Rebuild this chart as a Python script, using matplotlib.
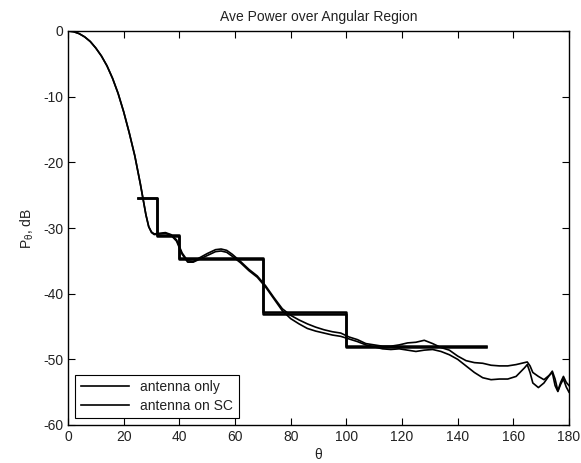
import matplotlib
matplotlib.use("Agg")
import matplotlib.pyplot as plt

plt.rcParams["font.family"] = ["Liberation Sans", "DejaVu Sans"]
plt.rcParams["axes.unicode_minus"] = False
plt.rcParams["mathtext.default"] = "regular"

# curve samples (theta in deg, power in dB)
theta_a = [0, 2, 4, 6, 8, 10, 12, 14, 16, 18, 20, 22, 24, 26, 28, 29, 30, 31,
           33, 35, 37, 39, 41, 43, 45, 47, 50, 53, 55, 57, 59, 62, 65, 68, 71,
           74, 77, 80, 83, 86, 89, 92, 95, 98, 101, 104, 107, 110, 113, 116,
           119, 122, 125, 128, 131, 134, 137, 140, 143, 146, 149, 152, 155,
           158, 161, 164, 165, 166, 167, 169, 171, 173, 174, 175, 176, 177,
           178, 179, 180]
power_a = [0, -0.1, -0.4, -0.9, -1.6, -2.6, -3.8, -5.3, -7.2, -9.5, -12.3,
           -15.5, -19.0, -23.3, -28.0, -29.8, -30.6, -30.9, -30.8, -30.7,
           -31.0, -31.8, -33.8, -35.0, -35.1, -34.6, -33.9, -33.3, -33.2,
           -33.4, -34.0, -35.1, -36.3, -37.3, -38.8, -40.6, -42.3, -43.3,
           -44.0, -44.6, -45.1, -45.5, -45.8, -46.0, -46.6, -47.0, -47.6,
           -47.8, -48.0, -48.0, -47.8, -47.5, -47.4, -47.1, -47.6, -48.2,
           -48.6, -49.5, -50.2, -50.5, -50.6, -50.9, -51.0, -51.0, -50.8,
           -50.5, -50.4, -51.0, -52.0, -52.6, -53.1, -52.4, -51.8, -53.0,
           -54.8, -53.5, -52.6, -53.5, -54.0]

theta_b = [0, 2, 4, 6, 8, 10, 12, 14, 16, 18, 20, 22, 24, 26, 28, 29, 30, 31,
           33, 35, 37, 39, 41, 43, 45, 47, 50, 53, 55, 57, 59, 62, 65, 68, 71,
           74, 77, 80, 83, 86, 89, 92, 95, 98, 101, 104, 107, 110, 113, 116,
           119, 122, 125, 128, 131, 134, 137, 140, 143, 146, 149, 152, 155,
           158, 161, 164, 165, 166, 167, 169, 171, 173, 174, 175, 176, 177,
           178, 179, 180]
power_b = [0, -0.1, -0.4, -0.9, -1.6, -2.6, -3.8, -5.3, -7.2, -9.5, -12.3,
           -15.5, -19.0, -23.3, -28.0, -29.8, -30.7, -31.0, -30.9, -30.8,
           -31.1, -32.0, -34.0, -35.2, -35.2, -34.8, -34.2, -33.6, -33.5,
           -33.7, -34.3, -35.3, -36.5, -37.5, -39.0, -40.8, -42.6, -43.8,
           -44.6, -45.3, -45.7, -46.0, -46.3, -46.5, -46.9, -47.3, -47.8,
           -48.1, -48.4, -48.5, -48.4, -48.6, -48.8, -48.6, -48.5, -48.8,
           -49.3, -50.0, -51.0, -52.0, -52.8, -53.1, -53.0, -53.0, -52.6,
           -51.3, -50.8, -52.0, -53.6, -54.3, -53.6, -52.4, -52.0, -54.0,
           -54.9, -53.8, -53.0, -54.2, -55.0]

# angular region averages
edges = [25, 32, 40, 70, 100, 150]
avg_a = [-25.5, -31.0, -34.6, -42.8, -48.0]
avg_b = [-25.5, -31.2, -34.7, -43.1, -48.1]


def main():
    fig = plt.figure(figsize=(5.81, 4.63), dpi=100)
    ax = fig.add_axes([68 / 581, 38 / 463, 501 / 581, 394 / 463])

    ax.plot(theta_a, power_a, color="black", linewidth=1.2,
            label="antenna only")
    ax.plot(theta_b, power_b, color="black", linewidth=1.2,
            label="antenna on SC")
    ax.step(edges, avg_a + [avg_a[-1]], where="post", color="black",
            linewidth=1.8)
    ax.step(edges, avg_b + [avg_b[-1]], where="post", color="black",
            linewidth=1.8)

    ax.set_xlim(0, 180)
    ax.set_ylim(-60, 0)
    ax.set_xticks(range(0, 181, 20))
    ax.set_yticks(range(-60, 1, 10))
    ax.tick_params(direction="in", top=True, right=True, labelsize=10,
                   length=5, colors="black", labelcolor="#222222")
    for s in ax.spines.values():
        s.set_linewidth(1.0)

    ax.set_title("Ave Power over Angular Region", fontsize=10, pad=7,
                 color="#222222")
    ax.set_xlabel("\u03b8", fontsize=10, labelpad=3, color="#222222")
    ax.set_ylabel(r"P$_\theta$, dB", fontsize=10, labelpad=5,
                  color="#222222")

    leg = ax.legend(loc="lower left", fontsize=10, handlelength=3.5,
                    fancybox=False, framealpha=1, edgecolor="black",
                    borderpad=0.4, labelspacing=0.3)
    leg.get_frame().set_linewidth(0.8)
    for t in leg.get_texts():
        t.set_color("#222222")

    fig.savefig("out.png", dpi=100)


if __name__ == "__main__":
    main()
